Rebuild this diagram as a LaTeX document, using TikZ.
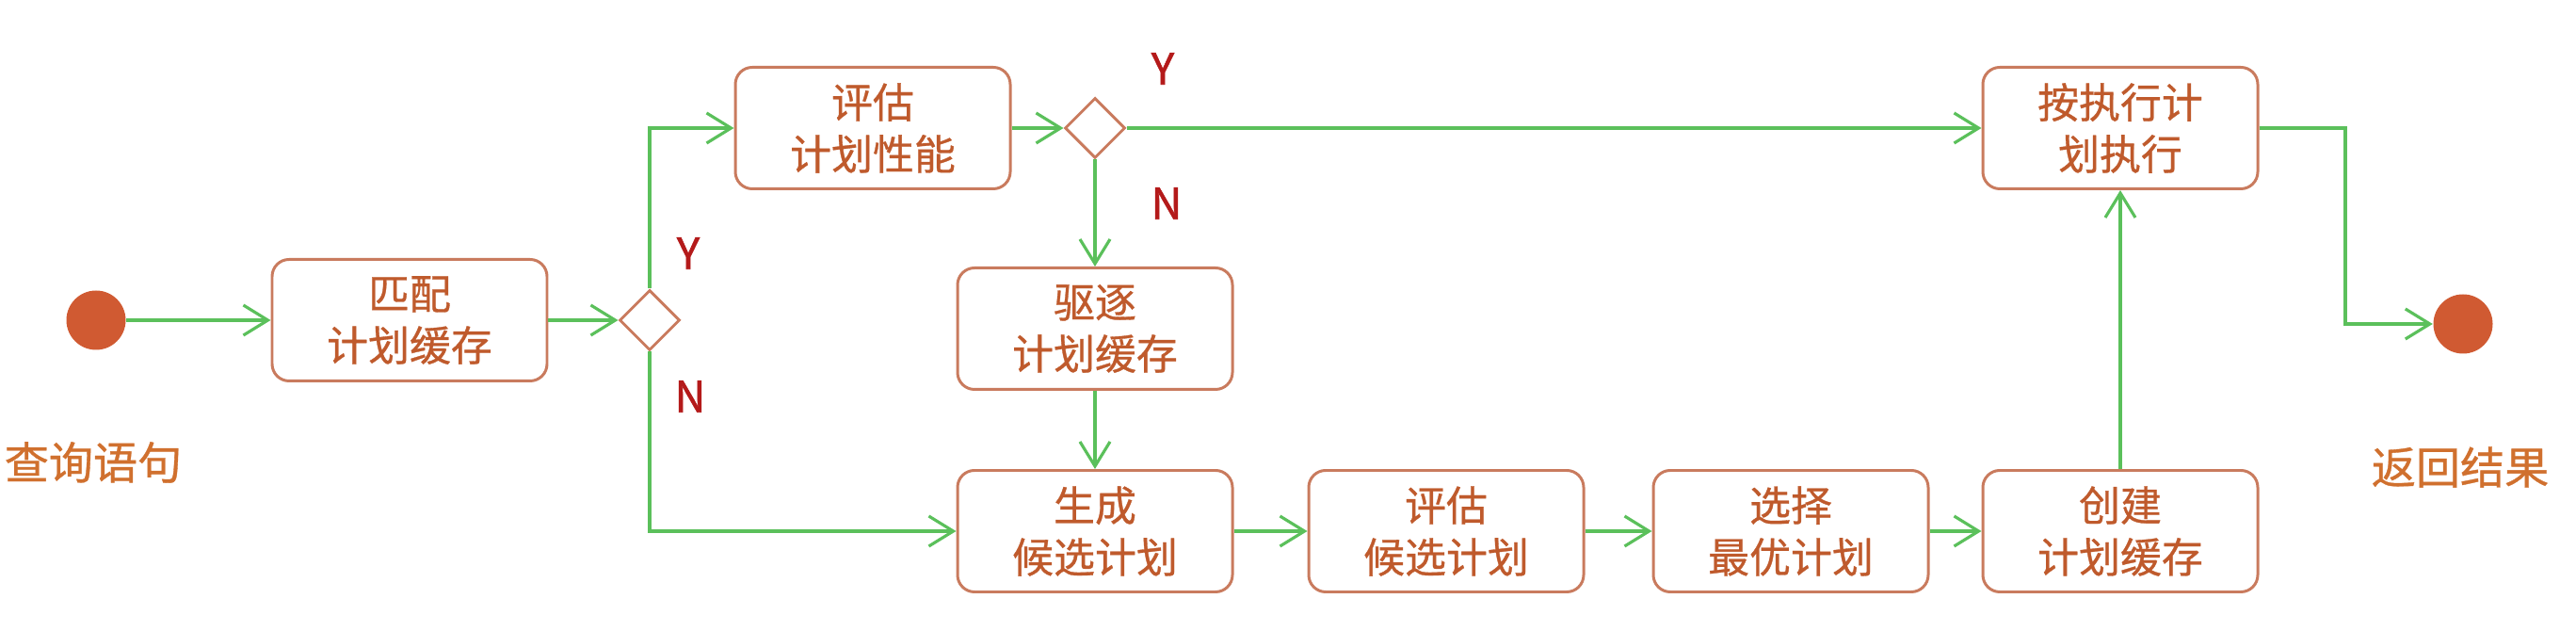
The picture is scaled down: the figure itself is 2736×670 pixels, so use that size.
\documentclass[tikz,border=0pt]{standalone}
\usepackage{fontspec}
\setmainfont{Noto Sans CJK SC}
\newfontfamily\medfont{Noto Sans CJK SC}[FakeBold=0.7]
\newfontfamily\heavyfont{Noto Sans CJK SC}[FakeBold=1.4]
\usetikzlibrary{shapes.geometric,arrows.meta}

\definecolor{boxline}{HTML}{C97B5E}
\definecolor{boxtext}{HTML}{BF5A2C}
\definecolor{flowgreen}{HTML}{5BC05B}
\definecolor{dotfill}{HTML}{D05A32}
\definecolor{yntext}{HTML}{B41A1A}
\definecolor{endtext}{HTML}{D0702E}

\begin{document}
\begin{tikzpicture}[x=0.1mm,y=-0.1mm,
  stepbox/.style={draw=boxline,line width=0.85pt,rounded corners=1.8mm,
    minimum width=29.2mm,minimum height=12.9mm,inner sep=0pt,align=center,
    text=boxtext,font=\medfont\fontsize{12.5}{15.6}\selectfont},
  choice/.style={draw=boxline,line width=0.85pt,diamond,aspect=1,
    minimum width=6.4mm,minimum height=6.4mm,inner sep=0pt},
  dot/.style={circle,fill=dotfill,minimum size=6.3mm,inner sep=0pt},
  yn/.style={text=yntext,font=\heavyfont\fontsize{13}{13}\selectfont},
  endlabel/.style={text=endtext,font=\medfont\fontsize{13.4}{13.4}\selectfont},
  flow/.style={draw=flowgreen,line width=0.9pt,
    -{Straight Barb[length=2.6mm,width=3.2mm,line width=0.9pt]}}]
\useasboundingbox (0,0) rectangle (2736,670);

% start and end
\node[dot] (start) at (102,340) {};
\node[endlabel] (query) at (99,491) {查询语句};
\node[dot] (stop) at (2616,344) {};
\node[endlabel] (result) at (2613,496) {返回结果};

% steps
\node[stepbox] (match) at (435,340) {匹配\\计划缓存};
\node[choice] (d1) at (690,340) {};
\node[stepbox] (evalperf) at (927,136) {评估\\计划性能};
\node[choice] (d2) at (1163,136) {};
\node[stepbox] (evict) at (1163,349) {驱逐\\计划缓存};
\node[stepbox] (gen) at (1163,564) {生成\\候选计划};
\node[stepbox] (evalcand) at (1536,564) {评估\\候选计划};
\node[stepbox] (select) at (1902,564) {选择\\最优计划};
\node[stepbox] (create) at (2252,564) {创建\\计划缓存};
\node[stepbox] (exec) at (2252,136) {按执行计\\划执行};

% Y/N
\node[yn] (y1) at (731,269) {Y};
\node[yn] (n1) at (733,421) {N};
\node[yn] (y2) at (1235,73) {Y};
\node[yn] (n2) at (1239,216) {N};

\coordinate (turn) at (2491,344);

% connectors
\draw[flow] (start) -- (match);
\draw[flow] (match) -- (d1);
\draw[flow] (d1.north) |- (evalperf);
\draw[flow] (d1.south) |- (gen);
\draw[flow] (evalperf) -- (d2);
\draw[flow] (d2) -- (exec);
\draw[flow] (d2) -- (evict);
\draw[flow] (evict) -- (gen);
\draw[flow] (gen) -- (evalcand);
\draw[flow] (evalcand) -- (select);
\draw[flow] (select) -- (create);
\draw[flow] (create) -- (exec);
\draw[flow] (exec.east) -| (turn) -- (stop);
\end{tikzpicture}
\end{document}
